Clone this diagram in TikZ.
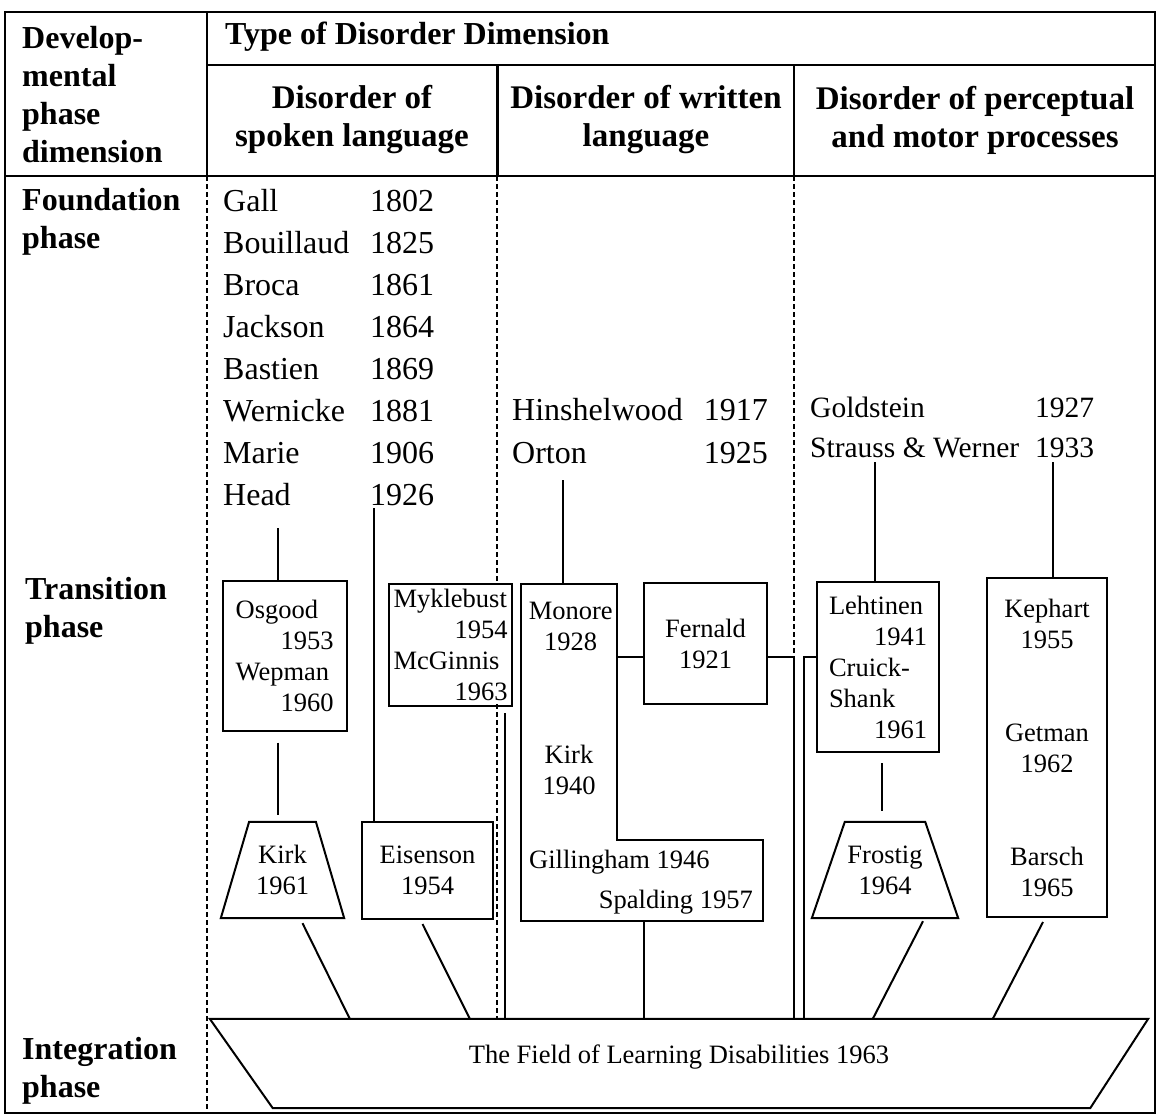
\documentclass[tikz,border=0pt]{standalone}
\usepackage{fontspec}
\setmainfont{Liberation Serif}
\usetikzlibrary{calc}
\newcommand{\pushright}{\hspace*{0pt plus 1filll}}

\begin{document}
\begin{tikzpicture}[
  x=1pt, y=-1pt,
  every node/.style={font=\fontsize{26.5}{31}\selectfont, align=center},
  hd/.style={font=\bfseries\fontsize{32}{38}\selectfont, inner sep=0pt},
  subhd/.style={hd, font=\bfseries\fontsize{33}{38}\selectfont},
  entry/.style={inner sep=0pt, font=\fontsize{32}{38}\selectfont,
                text height=21pt, text depth=0pt},
  pentry/.style={entry, font=\fontsize{29.5}{36}\selectfont, text height=20pt},
  txt/.style={inner sep=0pt},
  box/.style={draw, line width=2pt, inner ysep=0pt},
  trapbox/.style={inner sep=0pt},
  link/.style={line width=2pt},
  divider/.style={line width=2pt, dash pattern=on 5pt off 3pt},
  frame/.style={line width=2.4pt}
]
  \useasboundingbox (0,0) rectangle (1157,1117);

  %% Table frame and header rules
  \draw[frame] (5,12) rectangle (1155,1113);
  \draw[frame] (5,176) -- (1155,176);
  \draw[frame] (206.7,12) -- (206.7,176);
  \draw[frame] (206.7,65) -- (1155,65);
  \draw[frame] (497.5,65) -- (497.5,176);
  \draw[frame] (794,65) -- (794,176);

  %% Header texts
  \node[hd, anchor=west, align=left] (devh)  at (22,94.5) {Develop-\\mental\\phase\\dimension};
  \node[hd, anchor=west]             (typeh) at (225,37)  {Type of Disorder Dimension};
  \node[subhd]                       (spokh) at (352,120) {Disorder of\\spoken language};
  \node[subhd]                       (writh) at (646,120) {Disorder of written\\language};
  \node[subhd]                       (perch) at (975,120) {Disorder of perceptual\\and motor processes};

  %% Phase labels
  \node[hd, anchor=west, align=left] (foundh) at (22,222)  {Foundation\\phase};
  \node[hd, anchor=west, align=left] (transh) at (25,611)  {Transition\\phase};
  \node[hd, anchor=west, align=left] (integh) at (22,1071) {Integration\\phase};

  %% Foundation phase lists
  \foreach \nm/\yr/\yy [count=\i] in {Gall/1802/201, Bouillaud/1825/243,
      Broca/1861/285, Jackson/1864/327, Bastien/1869/369,
      Wernicke/1881/411, Marie/1906/453, Head/1926/495}{
    \node[entry, anchor=west] (fn\i) at (223,\yy) {\nm};
    \node[entry, anchor=west] (fy\i) at (370,\yy) {\yr};
  }
  \node[entry, anchor=west]  (hin)   at (512,410)  {Hinshelwood};
  \node[entry, anchor=east]  (hin-y) at (768,410)  {1917};
  \node[entry, anchor=west]  (ort)   at (512,453)  {Orton};
  \node[entry, anchor=east]  (ort-y) at (768,453)  {1925};
  \node[pentry, anchor=west] (gol)   at (810,407)  {Goldstein};
  \node[pentry, anchor=west] (gol-y) at (1035,407) {1927};
  \node[pentry, anchor=west] (str)   at (810,447)  {Strauss \& Werner};
  \node[pentry, anchor=west] (str-y) at (1035,447) {1933};

  %% Transition phase boxes
  \node[box, minimum width=124pt, minimum height=150pt, text width=98pt, align=left]
    (osg) at (284.7,655.7) {Osgood\\\pushright 1953\\Wepman\\\pushright 1960};
  \node[box, minimum width=123pt, minimum height=122pt, text width=114pt,
        inner xsep=0pt, align=left]
    (myk) at (450.5,645) {Myklebust\\\pushright 1954\\McGinnis\\\pushright 1963};
  \node[trapbox, minimum width=123pt, minimum height=96pt] (kirk) at (282.5,870) {Kirk\\1961};
  \draw[link] ($(kirk.north west)+(28.3,0)$) -- ($(kirk.north east)+(-28.3,0)$)
    -- (kirk.south east) -- (kirk.south west) -- cycle;
  \node[box, minimum width=131pt, minimum height=97pt] (eis) at (427.5,870.5) {Eisenson\\1954};

  \coordinate (mon-nw) at (520.7,584);
  \coordinate (mon-ne) at (616.7,584);
  \coordinate (mon-in) at (616.7,840);
  \coordinate (gil-ne) at (762.7,840);
  \coordinate (gil-se) at (762.7,921);
  \coordinate (gil-sw) at (520.7,921);
  \draw[link] (mon-nw) -- (mon-ne) -- (mon-in) -- (gil-ne) -- (gil-se) -- (gil-sw) -- cycle;
  \node (mon)  at (570.7,626) {Monore\\1928};
  \node (kirk2) at (569,770)  {Kirk\\1940};
  \node[txt, anchor=west] (gil) at (529,862) {Gillingham 1946};
  \node[txt, anchor=east] (spa) at (753,902) {Spalding 1957};
  \node[box, minimum width=123pt, minimum height=121pt] (fer) at (705.5,643.5) {Fernald\\1921};

  \node[box, minimum width=122pt, minimum height=170pt, text width=98pt, align=left]
    (leh) at (878,667) {Lehtinen\\\pushright 1941\\Cruick-\\Shank\\\pushright 1961};
  \node[trapbox, minimum width=146pt, minimum height=96pt] (frost) at (885,870) {Frostig\\1964};
  \draw[link] ($(frost.north west)+(33,0)$) -- ($(frost.north east)+(-33,0)$)
    -- (frost.south east) -- (frost.south west) -- cycle;
  \node[box, minimum width=120pt, minimum height=339pt]
    (kep) at (1047,747.5) {Kephart\\1955\\[62pt]Getman\\1962\\[62pt]Barsch\\1965};

  %% Integration phase
  \node[trapbox, minimum width=938pt, minimum height=89pt, text height=18pt, text depth=19pt]
    (field) at (679,1063.5) {The Field of Learning Disabilities 1963};
  \draw[link] (field.north west) -- (field.north east) -- ($(field.south east)+(-58,0)$)
    -- ($(field.south west)+(63,0)$) -- cycle;

  %% Column dividers below the header
  \draw[divider] (206.7,176) -- (206.7,1113);
  \draw[divider] (497,176) -- (497,582);
  \draw[divider] (497,704) -- (497,1019);
  \draw[divider] (794,176) -- (794,657);

  %% Connectors
  \coordinate (osg-top) at (278,528);
  \draw[link] (osg-top) -- (osg-top |- osg.north);
  \draw[link, shorten <=11pt, shorten >=7pt] (osg-top |- osg.south) -- (osg-top |- kirk.north);
  \coordinate (head-foot) at (374,508);
  \draw[link] (head-foot) -- (head-foot |- eis.north);
  \draw[link] ($(kirk.south)+(20,5)$) -- ($(field.north west)+(140,0)$);
  \draw[link] ($(eis.south)+(-5,4)$) -- ($(field.north west)+(260,0)$);
  \draw[link] ($(myk.south east)+(-8,6)$) coordinate (myk-leg) -- (myk-leg |- field.north);

  \coordinate (ort-foot) at (563,480);
  \draw[link] (ort-foot) -- (ort-foot |- mon-nw);
  \draw[link] ($(fer.west)+(0,13.5)$) coordinate (fer-l) -- (fer-l -| mon-ne);
  \draw[link] ($(fer.east)+(0,13.5)$) -| ($(field.north west)+(584,0)$);
  \coordinate (gil-foot) at (644,921);
  \draw[link] (gil-foot) -- (gil-foot |- field.north);

  \coordinate (str-l) at (875,462);
  \draw[link] (str-l) -- (str-l |- leh.north);
  \draw[link] ($(leh.west)+(0,-10)$) -| ($(field.north west)+(594,0)$);
  \draw[link, shorten <=10pt, shorten >=11pt]
    ($(frost.north |- leh.south)+(-3,0)$) -- ($(frost.north)+(-3,0)$);
  \coordinate (str-r) at (1053,462);
  \draw[link] (str-r) -- (str-r |- kep.north);
  \draw[link] ($(frost.south)+(38,3)$) -- ($(field.north west)+(663,0)$);
  \draw[link] ($(kep.south)+(-4,4)$) -- ($(field.north west)+(783,0)$);
\end{tikzpicture}
\end{document}
